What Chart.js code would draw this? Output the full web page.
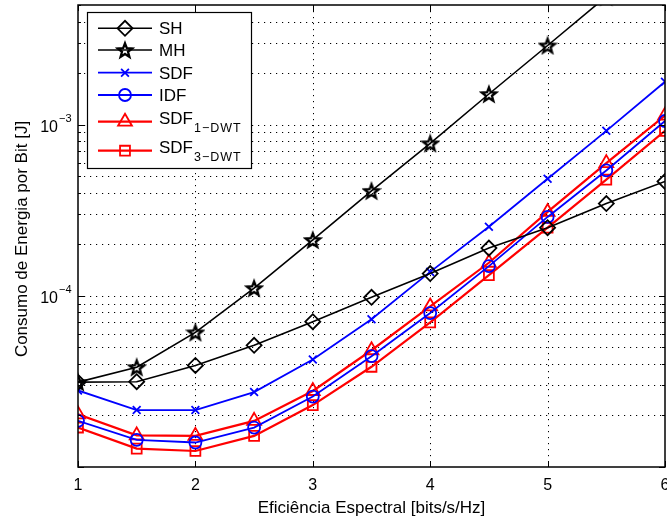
<!DOCTYPE html>
<html lang="pt">
<head>
  <meta charset="UTF-8">
  <title>Consumo de Energia por Bit</title>
  <script src="https://cdn.jsdelivr.net/npm/chart.js"></script>
  <style>
    body { margin: 0; background: #fff; }
    #wrap { width: 667px; height: 520px; }
  </style>
</head>
<body>
  <div id="wrap"><canvas id="chart" width="667" height="520"></canvas></div>

  <script>
    // values (log scale, energy in J)
    const efficiency = [1, 1.5, 2, 2.5, 3, 3.5, 4, 4.5, 5, 5.5, 6];
    const sh   = [3.13e-5, 3.15e-5, 3.92e-5, 5.14e-5, 7.06e-5, 9.8e-5, 1.35e-4, 1.9e-4, 2.5e-4, 3.46e-4, 4.66e-4];
    const mh   = [3.13e-5, 3.83e-5, 6.12e-5, 1.11e-4, 2.12e-4, 4.1e-4, 7.78e-4, 1.51e-3, 2.9e-3, 5.6e-3, 1.08e-2];
    const sdf  = [2.8e-5, 2.15e-5, 2.15e-5, 2.74e-5, 4.25e-5, 7.3e-5, 1.38e-4, 2.53e-4, 4.83e-4, 9.2e-4, 1.78e-3];
    const idf  = [1.86e-5, 1.44e-5, 1.39e-5, 1.7e-5, 2.58e-5, 4.44e-5, 7.93e-5, 1.49e-4, 2.89e-4, 5.4e-4, 1.05e-3];
    const sdf1 = [2.03e-5, 1.53e-5, 1.52e-5, 1.86e-5, 2.78e-5, 4.81e-5, 8.67e-5, 1.56e-4, 3.09e-4, 5.96e-4, 1.13e-3];
    const sdf3 = [1.7e-5, 1.28e-5, 1.24e-5, 1.52e-5, 2.3e-5, 3.85e-5, 7.0e-5, 1.32e-4, 2.5e-4, 4.77e-4, 9.2e-4];

    const xTicks = [1, 2, 3, 4, 5, 6];
    const yTicks = [1e-5, 2e-5, 3e-5, 4e-5, 5e-5, 6e-5, 7e-5, 8e-5, 9e-5,
                    1e-4, 2e-4, 3e-4, 4e-4, 5e-4, 6e-4, 7e-4, 8e-4, 9e-4,
                    1e-3, 2e-3, 3e-3, 4e-3, 5e-3];
    const yDecadeLabels = [[1e-4, '−4'], [1e-3, '−3']];

    const FONT = '"Liberation Sans", Arial, sans-serif';

    // hollow pentagram like matlab's 'p' marker
    function makeStar(color) {
      const R = 7.5, size = 20;
      const c = document.createElement('canvas');
      c.width = size; c.height = size;
      const g = c.getContext('2d');
      g.strokeStyle = color;
      g.lineWidth = 2.3;
      g.lineJoin = 'miter';
      g.beginPath();
      for (let i = 0; i < 10; i++) {
        const r = i % 2 === 0 ? R : R * 0.42;
        const a = -Math.PI / 2 + i * Math.PI / 5;
        const px = size / 2 + r * Math.cos(a), py = size / 2 + 0.8 + r * Math.sin(a);
        if (i === 0) g.moveTo(px, py); else g.lineTo(px, py);
      }
      g.closePath();
      g.stroke();
      return c;
    }

    function series(label, values, color, style, radius, width, sub) {
      return {
        label: label,
        sub: sub,
        data: values.map((v, i) => ({ x: efficiency[i], y: v })),
        borderColor: color,
        borderWidth: width,
        pointStyle: style,
        pointRadius: radius,
        pointHoverRadius: radius,
        pointBorderColor: color,
        pointBackgroundColor: 'rgba(0,0,0,0)',
        pointBorderWidth: 1.8,
        tension: 0
      };
    }

    const datasets = [
      series('SH', sh, '#000000', 'rectRot', 7.5, 1.6),
      series('MH', mh, '#000000', makeStar('#000000'), 7.5, 1.6),
      series('SDF', sdf, '#0000ff', 'crossRot', 5.5, 1.8),
      series('IDF', idf, '#0000ff', 'circle', 6, 1.8),
      series('SDF', sdf1, '#ff0000', 'triangle', 8, 2.2, '1−DWT'),
      series('SDF', sdf3, '#ff0000', 'rect', 7, 2.2, '3−DWT')
    ];

    // matlab-like axes: dotted grid, inward ticks, full box, tick labels, titles, legend
    const matlabAxes = {
      id: 'matlabAxes',
      beforeDatasetsDraw(chart) {
        const { ctx, chartArea: a, scales: { x, y } } = chart;
        ctx.save();
        ctx.strokeStyle = '#000';
        ctx.lineWidth = 1;
        ctx.setLineDash([1.2, 4.8]);
        ctx.beginPath();
        xTicks.forEach(v => {
          const px = Math.round(x.getPixelForValue(v)) + 0.5;
          if (px > a.left + 2 && px < a.right - 2) { ctx.moveTo(px, a.top); ctx.lineTo(px, a.bottom); }
        });
        yTicks.forEach(v => {
          const py = Math.round(y.getPixelForValue(v)) + 0.5;
          if (py > a.top + 2 && py < a.bottom - 2) { ctx.moveTo(a.left, py); ctx.lineTo(a.right, py); }
        });
        ctx.stroke();
        ctx.restore();
      },
      afterDatasetsDraw(chart) {
        const { ctx, chartArea: a, scales: { x, y } } = chart;
        ctx.save();
        ctx.strokeStyle = '#000';
        ctx.lineWidth = 1;
        ctx.beginPath();
        xTicks.forEach(v => {
          const px = Math.round(x.getPixelForValue(v)) + 0.5;
          ctx.moveTo(px, a.bottom); ctx.lineTo(px, a.bottom - 6);
          ctx.moveTo(px, a.top); ctx.lineTo(px, a.top + 6);
        });
        yTicks.forEach(v => {
          const py = Math.round(y.getPixelForValue(v)) + 0.5;
          const major = Math.abs(Math.log10(v) - Math.round(Math.log10(v))) < 1e-6;
          const len = major ? 6 : 3;
          ctx.moveTo(a.left, py); ctx.lineTo(a.left + len, py);
          ctx.moveTo(a.right, py); ctx.lineTo(a.right - len, py);
        });
        ctx.stroke();
        ctx.lineWidth = 1.5;
        ctx.strokeRect(a.left, a.top, a.right - a.left, a.bottom - a.top);

        // tick labels
        ctx.fillStyle = '#000';
        ctx.font = '16px ' + FONT;
        ctx.textAlign = 'center';
        ctx.textBaseline = 'alphabetic';
        xTicks.forEach(v => ctx.fillText(String(v), x.getPixelForValue(v), a.bottom + 23));
        yDecadeLabels.forEach(([v, exp]) => {
          const py = y.getPixelForValue(v);
          ctx.font = '16px ' + FONT;
          ctx.textAlign = 'right';
          ctx.fillText('10', 58, py + 7.5);
          ctx.font = '11px ' + FONT;
          ctx.textAlign = 'left';
          ctx.fillText(exp, 59, py - 2.5);
        });

        // axis titles
        ctx.font = '17px ' + FONT;
        ctx.textAlign = 'center';
        ctx.fillText('Eficiência Espectral [bits/s/Hz]', (a.left + a.right) / 2, a.bottom + 46);
        ctx.save();
        ctx.translate(27, 239);
        ctx.rotate(-Math.PI / 2);
        ctx.fillText('Consumo de Energia por Bit [J]', 0, 0);
        ctx.restore();

        // legend
        const box = { left: 87, top: 12, right: 251, bottom: 168 };
        const rows = [28.3, 50, 72.7, 95, 121.7, 150.7];
        ctx.fillStyle = '#fff';
        ctx.fillRect(box.left, box.top, box.right - box.left, box.bottom - box.top);
        ctx.strokeStyle = '#000';
        ctx.lineWidth = 1.2;
        ctx.strokeRect(box.left + 0.5, box.top + 0.5, box.right - box.left, box.bottom - box.top);
        chart.data.datasets.forEach((ds, i) => {
          const ry = rows[i];
          ctx.strokeStyle = ds.borderColor;
          ctx.lineWidth = ds.borderWidth;
          ctx.beginPath();
          ctx.moveTo(98, ry); ctx.lineTo(152, ry);
          ctx.stroke();
          ctx.fillStyle = 'rgba(0,0,0,0)';
          ctx.lineWidth = ds.pointBorderWidth;
          Chart.helpers.drawPoint(ctx, {
            pointStyle: ds.pointStyle, radius: ds.pointRadius, rotation: 0, borderWidth: ds.pointBorderWidth
          }, 125, ry);
          ctx.fillStyle = '#000';
          ctx.font = '17px ' + FONT;
          ctx.textAlign = 'left';
          if (ds.sub) {
            ctx.fillText(ds.label, 159, ry + 2.6);
            const w = ctx.measureText(ds.label).width;
            ctx.font = '12.5px ' + FONT;
            ctx.letterSpacing = '1px';
            ctx.fillText(ds.sub, 159 + w + 1, ry + 10.6);
            ctx.letterSpacing = '0px';
          } else {
            ctx.fillText(ds.label, 159, ry + 6);
          }
        });
        ctx.restore();
      }
    };

    new Chart(document.getElementById('chart'), {
      type: 'line',
      data: { datasets: datasets },
      options: {
        responsive: false,
        animation: false,
        devicePixelRatio: 1,
        layout: { autoPadding: false, padding: { left: 78, right: 2, top: 5, bottom: 53 } },
        plugins: { legend: { display: false }, tooltip: { enabled: false } },
        events: [],
        scales: {
          x: { type: 'linear', min: 1, max: 6, display: false },
          y: { type: 'logarithmic', min: 1e-5, max: 5e-3, display: false }
        }
      },
      plugins: [matlabAxes]
    });
  </script>
</body>
</html>
